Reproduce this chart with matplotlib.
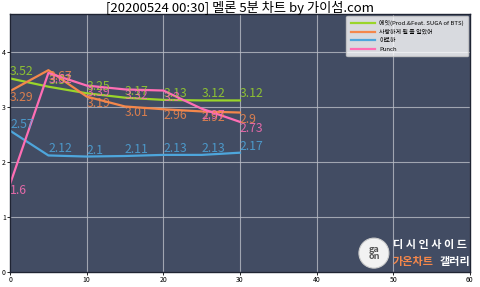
import matplotlib
matplotlib.use("Agg")
import matplotlib.pyplot as plt
from matplotlib.patches import Ellipse

plt.rcParams['font.family'] = ['Noto Sans CJK KR', 'DejaVu Sans']

title = "[20200524 00:30] 멜론 5분 차트 by 가이섬.com"
minutes = [0, 5, 10, 15, 20, 25, 30]
series_names = ["에잇(Prod.&Feat. SUGA of BTS)", "사랑하게 될 줄 알았어", "아로하", "Punch"]
s_eight = [3.52, 3.37, 3.25, 3.17, 3.13, 3.12, 3.12]
s_love = [3.29, 3.67, 3.19, 3.01, 2.96, 2.92, 2.9]
s_aloha = [2.57, 2.12, 2.1, 2.11, 2.13, 2.13, 2.17]
s_punch = [1.6, 3.62, 3.39, 3.32, 3.3, 2.97, 2.73]
colors = ["#9ad52a", "#f4874b", "#4ea6dc", "#ff6eb4"]

fig = plt.figure(figsize=(4.8, 2.87), dpi=100)
ax = fig.add_axes([0.021, 0.052, 0.958, 0.899])
ax.set_facecolor("#424c63")
ax.set_xlim(0, 60)
ax.set_ylim(0, 4.69)
ax.set_xticks([0, 10, 20, 30, 40, 50, 60])
ax.set_yticks([0, 1, 2, 3, 4])
ax.grid(True, color="#b8bcc6", linewidth=0.8, alpha=0.8)
ax.set_axisbelow(True)
ax.tick_params(labelsize=5, length=2, width=0.6, pad=1)
for sp in ax.spines.values():
    sp.set_color("#1f2433")
    sp.set_linewidth(1)

all_series = [s_eight, s_love, s_aloha, s_punch]
for i, (name, vals, c) in enumerate(zip(series_names, all_series, colors)):
    ax.plot(minutes, vals, color=c, linewidth=1.6, label=name)
    va = 'bottom' if i % 2 == 0 else 'top'
    for x, v in zip(minutes, vals):
        ax.text(x, v, f"{v:g}", color=c, fontsize=8.8, ha='left', va=va, alpha=0.85)

leg = ax.legend(loc='upper right', fontsize=4.3, framealpha=0.8, facecolor='white',
                edgecolor='#cccccc', handlelength=4, borderpad=0.7, labelspacing=0.55,
                borderaxespad=0.3)

fig.suptitle(title, fontsize=9.5, y=0.995, va='top')

# watermark
circ = Ellipse((0.779, 0.118), 30 / 480, 30 / 287, transform=fig.transFigure,
               facecolor='#f2f2f2', edgecolor='#cccccc', linewidth=0.8, zorder=5)
fig.patches.append(circ)
fig.text(0.779, 0.118, "ga\non", fontsize=6.5, fontweight='bold', color='#555555',
         ha='center', va='center', linespacing=0.8, zorder=6)
fig.text(0.818, 0.148, "디 시 인 사 이 드", fontsize=8, fontweight='bold', color='white',
         ha='left', va='center', zorder=6)
fig.text(0.818, 0.09, "가온차트", fontsize=8, fontweight='bold', color='#f4874b',
         ha='left', va='center', zorder=6)
fig.text(0.915, 0.09, "갤러리", fontsize=8, fontweight='bold', color='white',
         ha='left', va='center', zorder=6)

fig.savefig("out.png", dpi=100)
